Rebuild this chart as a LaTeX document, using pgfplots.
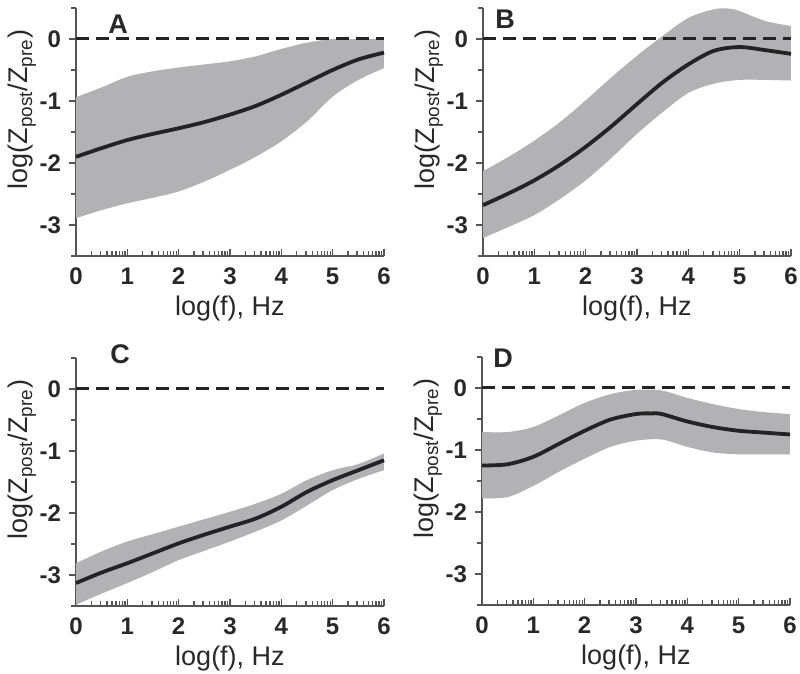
\documentclass[border=0pt]{standalone}
\usepackage{pgfplots}
\pgfplotsset{compat=1.18}
\usepgfplotslibrary{fillbetween}
\usepackage{fontspec}
\setmainfont{Liberation Sans}
\definecolor{bandgray}{RGB}{178,178,180}
\definecolor{linedark}{RGB}{35,35,35}
\definecolor{axgray}{RGB}{85,85,85}
\definecolor{txt}{RGB}{40,40,40}
\tikzset{letter/.style={font=\bfseries\fontsize{13.5}{15}\selectfont, text=txt}}
\pgfplotsset{
  panel/.style={
    scale only axis, width=154pt, height=124pt, anchor=south west,
    xmin=0, xmax=6, ymin=-3.5, ymax=0.5,
    axis x line*=bottom, axis y line*=left,
    axis line style={axgray, line width=0.9pt},
    every tick/.style={axgray, line width=0.7pt},
    xtick={0,1,2,3,4,5,6}, xticklabels={0,1,2,3,4,5,6},
    ytick={-3,-2,-1,0}, yticklabels={-3,-2,-1,0},
    minor ytick={-3.5,-2.5,-1.5,-0.5,0.5},
    minor xtick={0.30103,0.47712,0.60206,0.69897,0.77815,0.84510,0.90309,0.95424,
                 1.30103,1.47712,1.60206,1.69897,1.77815,1.84510,1.90309,1.95424,
                 2.30103,2.47712,2.60206,2.69897,2.77815,2.84510,2.90309,2.95424,
                 3.30103,3.47712,3.60206,3.69897,3.77815,3.84510,3.90309,3.95424,
                 4.30103,4.47712,4.60206,4.69897,4.77815,4.84510,4.90309,4.95424,
                 5.30103,5.47712,5.60206,5.69897,5.77815,5.84510,5.90309,5.95424},
    xtick align=inside, ytick align=outside,
    major tick length=3.5pt, minor tick length=2.5pt,
    ticklabel style={font=\bfseries\fontsize{12}{14}\selectfont, text=txt},
    xticklabel style={yshift=-2.5pt},
    yticklabel style={xshift=-0.5pt},
    xlabel={log(f), Hz},
    ylabel={log(Z\textsubscript{post}/Z\textsubscript{pre})},
    label style={font=\fontsize{13.5}{15}\selectfont, text=txt},
    xlabel style={at={(axis description cs:0.5,-0.21)}, anchor=center},
    ylabel style={at={(axis description cs:-0.175,0.59)}, anchor=center},
    clip=false,
  },
  meanline/.style={linedark, line width=1.9pt, smooth},
  zeroline/.style={linedark, line width=1.5pt, dash pattern=on 6.5pt off 3.5pt},
}
\begin{document}
\begin{tikzpicture}
% ---------- A ----------
\begin{axis}[panel, at={(38pt,209pt)}]
\addplot[name path=up, draw=none, smooth] coordinates {(0,-0.94) (0.5,-0.78) (1,-0.61) (1.5,-0.52) (2,-0.46) (2.5,-0.41) (3,-0.36) (3.5,-0.28) (4,-0.16) (4.5,-0.06) (5,0.0) (5.5,0.0) (6,0.0)};
\addplot[name path=lo, draw=none, smooth] coordinates {(0,-2.89) (0.5,-2.76) (1,-2.65) (1.5,-2.56) (2,-2.46) (2.5,-2.30) (3,-2.11) (3.5,-1.90) (4,-1.65) (4.5,-1.33) (5,-0.93) (5.5,-0.66) (6,-0.47)};
\addplot[bandgray, draw=none] fill between[of=up and lo];
\addplot[zeroline] coordinates {(0,0) (6,0)};
\addplot[meanline] coordinates {(0,-1.90) (0.5,-1.76) (1,-1.63) (1.5,-1.53) (2,-1.44) (2.5,-1.34) (3,-1.22) (3.5,-1.08) (4,-0.90) (4.5,-0.70) (5,-0.50) (5.5,-0.33) (6,-0.22)};
\node[letter] at (axis cs:0.82,0.24) {A};
\end{axis}
% ---------- B ----------
\begin{axis}[panel, at={(241.5pt,209pt)}]
\addplot[name path=up, draw=none, smooth] coordinates {(0,-2.13) (0.5,-1.90) (1,-1.64) (1.5,-1.34) (2,-0.99) (2.5,-0.62) (3,-0.27) (3.5,0.05) (4,0.34) (4.5,0.48) (4.8,0.49) (5,0.45) (5.5,0.29) (6,0.21)};
\addplot[name path=lo, draw=none, smooth] coordinates {(0,-3.21) (0.5,-3.03) (1,-2.84) (1.5,-2.58) (2,-2.28) (2.5,-1.92) (3,-1.53) (3.5,-1.18) (4,-0.87) (4.5,-0.72) (5,-0.66) (5.5,-0.66) (6,-0.67)};
\addplot[bandgray, draw=none] fill between[of=up and lo];
\addplot[zeroline] coordinates {(0,0) (6,0)};
\addplot[meanline] coordinates {(0,-2.68) (0.5,-2.49) (1,-2.28) (1.5,-2.03) (2,-1.74) (2.5,-1.41) (3,-1.05) (3.5,-0.70) (4,-0.41) (4.5,-0.19) (5,-0.13) (5.5,-0.18) (6,-0.24)};
\node[letter] at (axis cs:0.43,0.32) {B};
\end{axis}
% ---------- C ----------
\begin{axis}[panel, at={(38pt,34pt)}]
\addplot[name path=up, draw=none, smooth] coordinates {(0,-2.81) (0.5,-2.62) (1,-2.46) (1.5,-2.34) (2,-2.22) (2.5,-2.10) (3,-1.98) (3.5,-1.85) (4,-1.69) (4.5,-1.47) (5,-1.31) (5.5,-1.21) (6,-1.04)};
\addplot[name path=lo, draw=none, smooth] coordinates {(0,-3.48) (0.5,-3.30) (1,-3.13) (1.5,-2.95) (2,-2.76) (2.5,-2.61) (3,-2.46) (3.5,-2.30) (4,-2.12) (4.5,-1.88) (5,-1.63) (5.5,-1.45) (6,-1.31)};
\addplot[bandgray, draw=none] fill between[of=up and lo];
\addplot[zeroline] coordinates {(0,0) (6,0)};
\addplot[meanline] coordinates {(0,-3.13) (0.5,-2.96) (1,-2.81) (1.5,-2.65) (2,-2.49) (2.5,-2.35) (3,-2.22) (3.5,-2.09) (4,-1.90) (4.5,-1.66) (5,-1.47) (5.5,-1.31) (6,-1.15)};
\node[letter] at (axis cs:0.86,0.56) {C};
\end{axis}
% ---------- D ----------
\begin{axis}[panel, at={(241pt,34.5pt)}]
\addplot[name path=up, draw=none, smooth] coordinates {(0,-0.71) (0.5,-0.71) (1,-0.63) (1.5,-0.44) (2,-0.24) (2.5,-0.10) (3,-0.03) (3.5,-0.04) (4,-0.16) (4.5,-0.26) (5,-0.34) (5.5,-0.39) (6,-0.42)};
\addplot[name path=lo, draw=none, smooth] coordinates {(0,-1.78) (0.5,-1.76) (1,-1.58) (1.5,-1.35) (2,-1.14) (2.5,-0.95) (3,-0.85) (3.5,-0.83) (4,-0.95) (4.5,-1.04) (5,-1.07) (5.5,-1.07) (6,-1.07)};
\addplot[bandgray, draw=none] fill between[of=up and lo];
\addplot[zeroline] coordinates {(0,0) (6,0)};
\addplot[meanline] coordinates {(0,-1.25) (0.5,-1.23) (1,-1.11) (1.5,-0.90) (2,-0.69) (2.5,-0.51) (3,-0.42) (3.3,-0.41) (3.5,-0.42) (4,-0.54) (4.5,-0.63) (5,-0.69) (5.5,-0.72) (6,-0.75)};
\node[letter] at (axis cs:0.41,0.48) {D};
\end{axis}
\pgfresetboundingbox
\path (0,0) rectangle (400pt,337pt);
\end{tikzpicture}
\end{document}
